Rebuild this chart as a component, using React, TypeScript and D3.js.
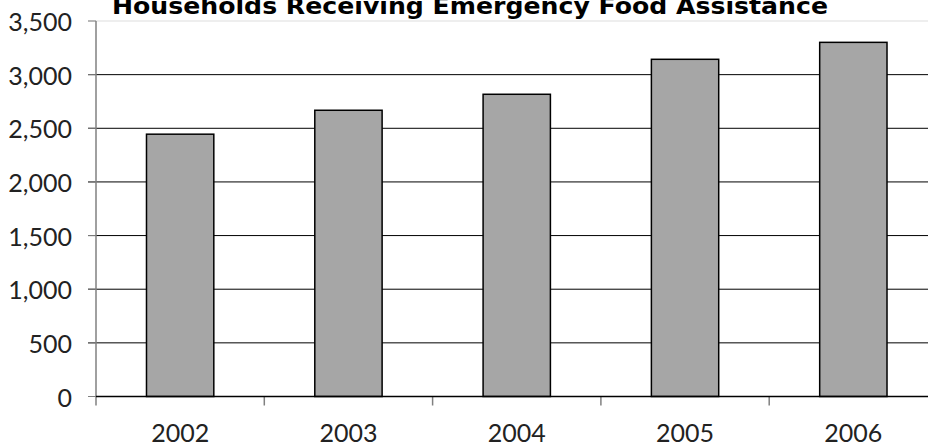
import React from "react";
import * as d3 from "d3";

const categories = ["2002", "2003", "2004", "2005", "2006"];
const values = [2445, 2668, 2817, 3143, 3301];
const yTicks = [0, 500, 1000, 1500, 2000, 2500, 3000, 3500];
const title = "Households Receiving Emergency Food Assistance";

const W = 928;
const H = 446;
const left = 96;
const band = 168.3;
const top = 21;
const bottom = 396.5;

export default function App() {
  const y = d3.scaleLinear().domain([0, 3500]).range([bottom, top]);
  const x = d3
    .scaleBand<string>()
    .domain(categories)
    .range([left, left + band * categories.length])
    .padding(0);
  const bw = x.bandwidth();
  const fmt = d3.format(",");
  const font = "Lato, 'DejaVu Sans', sans-serif";
  return (
    <svg
      width={W}
      height={H}
      style={{ position: "absolute", left: 0, top: 0, background: "#fff" }}
    >
      {yTicks.map((t) => (
        <g key={t}>
          <line
            x1={88}
            x2={W}
            y1={y(t)}
            y2={y(t)}
            stroke={t === 3500 ? "#dddddd" : "#000"}
            strokeWidth={1}
          />
          <line x1={88} x2={left} y1={y(t)} y2={y(t)} stroke="#808080" />
          <text
            x={72}
            y={y(t)}
            textAnchor="end"
            dominantBaseline="central"
            fontFamily={font}
            fontSize={25}
            fill="#222"
          >
            {fmt(t)}
          </text>
        </g>
      ))}
      <line x1={left} x2={left} y1={top} y2={bottom + 9} stroke="#808080" strokeWidth={1.5} />
      {categories.map((c, i) => (
        <g key={c}>
          <line
            x1={x(c)! + bw}
            x2={x(c)! + bw}
            y1={bottom}
            y2={bottom + 9}
            stroke="#808080"
            strokeWidth={1.5}
          />
          <rect
            x={x(c)! + bw * 0.3}
            y={y(values[i])}
            width={bw * 0.4}
            height={y(0) - y(values[i])}
            fill="#a6a6a6"
            stroke="#000"
            strokeWidth={1.5}
          />
          <text
            x={x(c)! + bw / 2}
            y={442}
            textAnchor="middle"
            fontFamily={font}
            fontSize={25}
            fill="#222"
          >
            {c}
          </text>
        </g>
      ))}
      <line x1={left} x2={W} y1={bottom} y2={bottom} stroke="#000" strokeWidth={1.5} />
      <text
        x={470}
        y={14}
        textAnchor="middle"
        fontFamily="'DejaVu Sans', sans-serif"
        fontWeight="bold"
        fontSize={23}
        textLength={716}
        lengthAdjust="spacingAndGlyphs"
        fill="#000"
      >
        {title}
      </text>
    </svg>
  );
}
